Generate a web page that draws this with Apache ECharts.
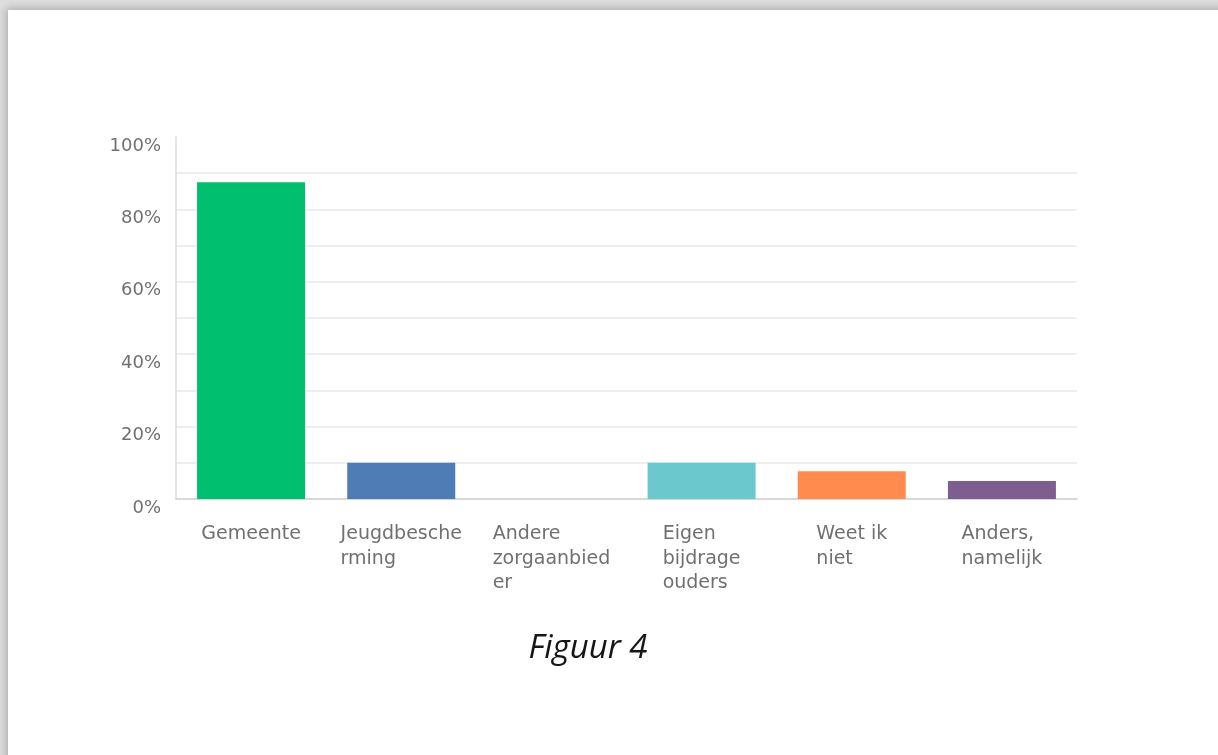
<!DOCTYPE html>
<html>
<head>
<meta charset="utf-8">
<script src="https://cdn.jsdelivr.net/npm/echarts@6/dist/echarts.min.js"></script>
<style>
  html, body { margin: 0; padding: 0; width: 1218px; height: 755px; overflow: hidden; background: #dedede; }
  #sheet { position: absolute; left: 8px; top: 10px; width: 1260px; height: 800px; background: #fff;
           box-shadow: -2px -2px 8px rgba(0,0,0,0.22); }
  #chart { position: absolute; left: 0; top: 0; width: 1218px; height: 755px; }
</style>
</head>
<body>
<div id="sheet"></div>
<div id="chart"></div>
<script>
// Answer options and share of respondents (%)
const categories = ['Gemeente', 'Jeugdbescherming', 'Andere zorgaanbieder', 'Eigen bijdrage ouders', 'Weet ik niet', 'Anders, namelijk'];
const values = [87.5, 10, 0, 10, 7.7, 5];
const barColors = ['#00bf6f', '#507cb6', '#f9be00', '#6bc8cd', '#ff8b4f', '#7d5e90'];
const yTicks = [0, 20, 40, 60, 80, 100];
const captionText = 'Figuur 4';

// Word wrap at a fixed character count; words longer than that are split.
function wrapLabel(text, maxChars) {
  const lines = [];
  let cur = '';
  text.split(' ').forEach(function (word) {
    let w = word;
    const candidate = cur ? cur + ' ' + w : w;
    if (candidate.length <= maxChars) { cur = candidate; return; }
    if (cur) { lines.push(cur); cur = ''; }
    while (w.length > maxChars) { lines.push(w.slice(0, maxChars)); w = w.slice(maxChars); }
    cur = w;
  });
  if (cur) lines.push(cur);
  return lines.join('\n');
}

const chart = echarts.init(document.getElementById('chart'), null, { renderer: 'canvas' });
const fontFamily = '"DejaVu Sans", sans-serif';

chart.setOption({
  backgroundColor: 'transparent',
  animation: false,
  grid: { left: 176, right: 141, top: 137, bottom: 256, containLabel: false },
  xAxis: {
    type: 'category',
    data: categories,
    axisLine: { show: true, lineStyle: { color: '#d0d0d0', width: 1.5 } },
    axisTick: { show: false },
    axisLabel: {
      interval: 0,
      margin: 23,
      formatter: function (v) { return '{t|' + wrapLabel(v, 11) + '}'; },
      rich: {
        t: { align: 'left', fontFamily: fontFamily, fontSize: 19, lineHeight: 24.5, color: '#6f7072' }
      },
      verticalAlign: 'top'
    }
  },
  yAxis: {
    type: 'value',
    min: 0,
    max: 100,
    interval: 10,
    axisLine: { show: true, lineStyle: { color: '#dcdcdc', width: 1.5 } },
    axisTick: { show: false },
    splitLine: {
      show: true,
      lineStyle: {
        color: ['#e9e9e9', '#e9e9e9', '#e9e9e9', '#e9e9e9', '#e9e9e9', '#e9e9e9',
                '#e9e9e9', '#e9e9e9', '#e9e9e9', '#e9e9e9', 'rgba(0,0,0,0)'],
        width: 1.5
      }
    },
    axisLabel: {
      margin: 15,
      verticalAlign: 'top',
      lineHeight: 18,
      fontFamily: fontFamily,
      fontSize: 18,
      color: '#6f7072',
      formatter: function (v) { return yTicks.indexOf(v) >= 0 ? v + '%' : ''; }
    }
  },
  series: [{
    type: 'bar',
    data: values.map(function (v, i) { return { value: v, itemStyle: { color: barColors[i] } }; }),
    barWidth: 108
  }],
  graphic: [{
    type: 'text',
    x: 588,
    y: 649,
    style: {
      text: captionText,
      fontFamily: '"Open Sans", sans-serif',
      fontStyle: 'italic',
      fontSize: 33,
      fill: '#161616',
      align: 'center',
      verticalAlign: 'middle'
    }
  }]
});
</script>
</body>
</html>
